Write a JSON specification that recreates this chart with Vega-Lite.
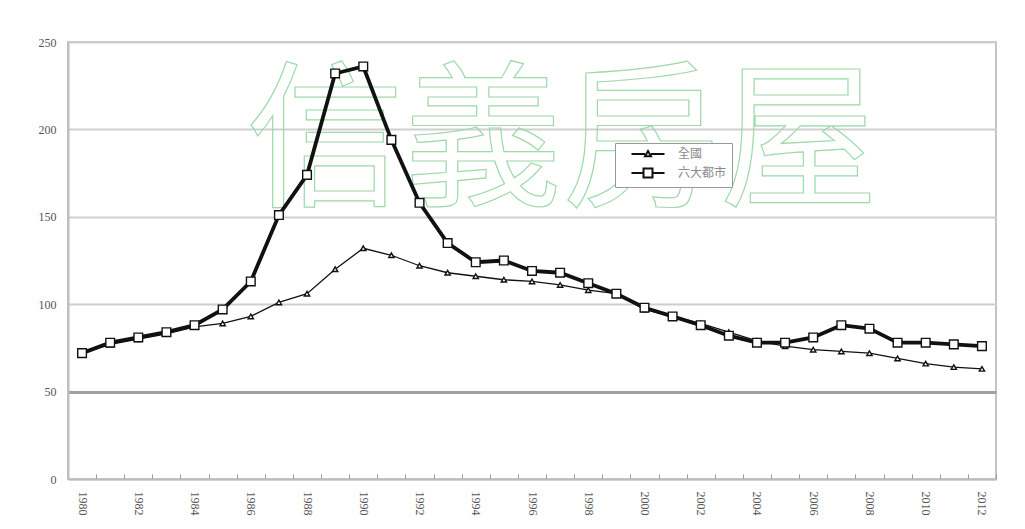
{
  "$schema": "https://vega.github.io/schema/vega-lite/v6.json",
  "width": 928,
  "height": 437,
  "autosize": "none",
  "padding": {"left": 68, "top": 42, "right": 29, "bottom": 50},
  "background": "white",
  "config": {
    "view": {"stroke": "#c4c4c4", "strokeWidth": 2},
    "axis": {"labelFont": "Liberation Serif", "labelFontSize": 12, "labelColor": "#555"}
  },
  "datasets": {
    "hpi": [
      {"year": "1980", "series": "全國", "value": 72},
      {"year": "1981", "series": "全國", "value": 77},
      {"year": "1982", "series": "全國", "value": 80},
      {"year": "1983", "series": "全國", "value": 83},
      {"year": "1984", "series": "全國", "value": 87},
      {"year": "1985", "series": "全國", "value": 89},
      {"year": "1986", "series": "全國", "value": 93},
      {"year": "1987", "series": "全國", "value": 101},
      {"year": "1988", "series": "全國", "value": 106},
      {"year": "1989", "series": "全國", "value": 120},
      {"year": "1990", "series": "全國", "value": 132},
      {"year": "1991", "series": "全國", "value": 128},
      {"year": "1992", "series": "全國", "value": 122},
      {"year": "1993", "series": "全國", "value": 118},
      {"year": "1994", "series": "全國", "value": 116},
      {"year": "1995", "series": "全國", "value": 114},
      {"year": "1996", "series": "全國", "value": 113},
      {"year": "1997", "series": "全國", "value": 111},
      {"year": "1998", "series": "全國", "value": 108},
      {"year": "1999", "series": "全國", "value": 106},
      {"year": "2000", "series": "全國", "value": 97},
      {"year": "2001", "series": "全國", "value": 93},
      {"year": "2002", "series": "全國", "value": 89},
      {"year": "2003", "series": "全國", "value": 84},
      {"year": "2004", "series": "全國", "value": 79},
      {"year": "2005", "series": "全國", "value": 76},
      {"year": "2006", "series": "全國", "value": 74},
      {"year": "2007", "series": "全國", "value": 73},
      {"year": "2008", "series": "全國", "value": 72},
      {"year": "2009", "series": "全國", "value": 69},
      {"year": "2010", "series": "全國", "value": 66},
      {"year": "2011", "series": "全國", "value": 64},
      {"year": "2012", "series": "全國", "value": 63},
      {"year": "1980", "series": "六大都市", "value": 72},
      {"year": "1981", "series": "六大都市", "value": 78},
      {"year": "1982", "series": "六大都市", "value": 81},
      {"year": "1983", "series": "六大都市", "value": 84},
      {"year": "1984", "series": "六大都市", "value": 88},
      {"year": "1985", "series": "六大都市", "value": 97},
      {"year": "1986", "series": "六大都市", "value": 113},
      {"year": "1987", "series": "六大都市", "value": 151},
      {"year": "1988", "series": "六大都市", "value": 174},
      {"year": "1989", "series": "六大都市", "value": 232},
      {"year": "1990", "series": "六大都市", "value": 236},
      {"year": "1991", "series": "六大都市", "value": 194},
      {"year": "1992", "series": "六大都市", "value": 158},
      {"year": "1993", "series": "六大都市", "value": 135},
      {"year": "1994", "series": "六大都市", "value": 124},
      {"year": "1995", "series": "六大都市", "value": 125},
      {"year": "1996", "series": "六大都市", "value": 119},
      {"year": "1997", "series": "六大都市", "value": 118},
      {"year": "1998", "series": "六大都市", "value": 112},
      {"year": "1999", "series": "六大都市", "value": 106},
      {"year": "2000", "series": "六大都市", "value": 98},
      {"year": "2001", "series": "六大都市", "value": 93},
      {"year": "2002", "series": "六大都市", "value": 88},
      {"year": "2003", "series": "六大都市", "value": 82},
      {"year": "2004", "series": "六大都市", "value": 78},
      {"year": "2005", "series": "六大都市", "value": 78},
      {"year": "2006", "series": "六大都市", "value": 81},
      {"year": "2007", "series": "六大都市", "value": 88},
      {"year": "2008", "series": "六大都市", "value": 86},
      {"year": "2009", "series": "六大都市", "value": 78},
      {"year": "2010", "series": "六大都市", "value": 78},
      {"year": "2011", "series": "六大都市", "value": 77},
      {"year": "2012", "series": "六大都市", "value": 76}
    ],
    "wm": [{"year": "1997", "value": 190, "text": "信義房屋"}]
  },
  "encoding": {
    "x": {
      "field": "year", "type": "ordinal",
      "scale": {"type": "band", "paddingInner": 0, "paddingOuter": 0},
      "axis": {
        "title": null, "labelAngle": 90, "tickBand": "extent", "tickSize": -5,
        "tickColor": "#999", "domainColor": "#bdbdbd", "domainWidth": 2,
        "labelPadding": 17, "labelFontSize": 12,
        "labelExpr": "parseInt(datum.value) % 2 === 0 ? datum.value : ''"
      }
    },
    "y": {
      "field": "value", "type": "quantitative",
      "scale": {"domain": [0, 250]},
      "axis": {
        "title": null, "values": [0, 50, 100, 150, 200, 250], "ticks": false,
        "labelPadding": 12, "domainColor": "#bdbdbd", "domainWidth": 2,
        "gridWidth": {"condition": {"test": "datum.value === 50", "value": 3}, "value": 2},
        "gridColor": {"condition": {"test": "datum.value === 50", "value": "#a0a0a0"}, "value": "#cfcfcf"}
      }
    }
  },
  "layer": [
    {
      "data": {"name": "wm"},
      "mark": {"type": "text", "font": "Noto Sans CJK TC", "fontSize": 158, "fill": "transparent", "stroke": "#9ed9aa", "strokeWidth": 1.2, "align": "center", "baseline": "middle", "dx": 2},
      "encoding": {"text": {"field": "text"}}
    },
    {
      "data": {"name": "hpi"},
      "mark": {"type": "line", "color": "#111"},
      "encoding": {
        "detail": {"field": "series"},
        "strokeWidth": {"condition": {"test": "datum.series === '全國'", "value": 1.3}, "value": 3.8}
      }
    },
    {
      "data": {"name": "hpi"},
      "mark": {"type": "point", "filled": true, "fill": "white", "stroke": "#111", "strokeWidth": 1.4, "opacity": 0},
      "encoding": {
        "shape": {
          "field": "series", "type": "nominal",
          "scale": {
            "domain": ["全國", "六大都市"],
            "range": ["M-3.3,0H-0.6M0.6,0H3.3M-0.6,0.45L0,-0.6L0.6,0.45Z", "M-3.3,0H-0.9M0.9,0H3.3M-0.9,-0.9H0.9V0.9H-0.9Z"]
          },
          "legend": {
            "orient": "none", "legendX": 547, "legendY": 101, "title": null,
            "padding": 5, "strokeColor": "#999", "fillColor": "white",
            "labelFont": "Noto Sans CJK TC", "labelFontSize": 12, "labelColor": "#8a8a8a",
            "symbolSize": 100, "symbolOffset": 22, "labelOffset": 24, "rowPadding": 3,
            "symbolStrokeWidth": 2,
            "encode": {
              "symbols": {
                "update": {
                  "strokeWidth": {"signal": "datum.value === '全國' ? 1.8 : 4"},
                  "stroke": {"value": "#111"},
                  "fill": {"value": "white"},
                  "opacity": {"value": 1},
                  "strokeOpacity": {"value": 1},
                  "fillOpacity": {"value": 1}
                }
              }
            }
          }
        }
      }
    },
    {
      "data": {"name": "hpi"},
      "mark": {"type": "point", "filled": true, "fill": "white", "stroke": "#111", "strokeWidth": 1.4, "opacity": 1},
      "encoding": {
        "size": {"condition": {"test": "datum.series === '全國'", "value": 28}, "value": 75},
        "shape": {"condition": {"test": "datum.series === '全國'", "value": "triangle-up"}, "value": "square"}
      }
    }
  ]
}
